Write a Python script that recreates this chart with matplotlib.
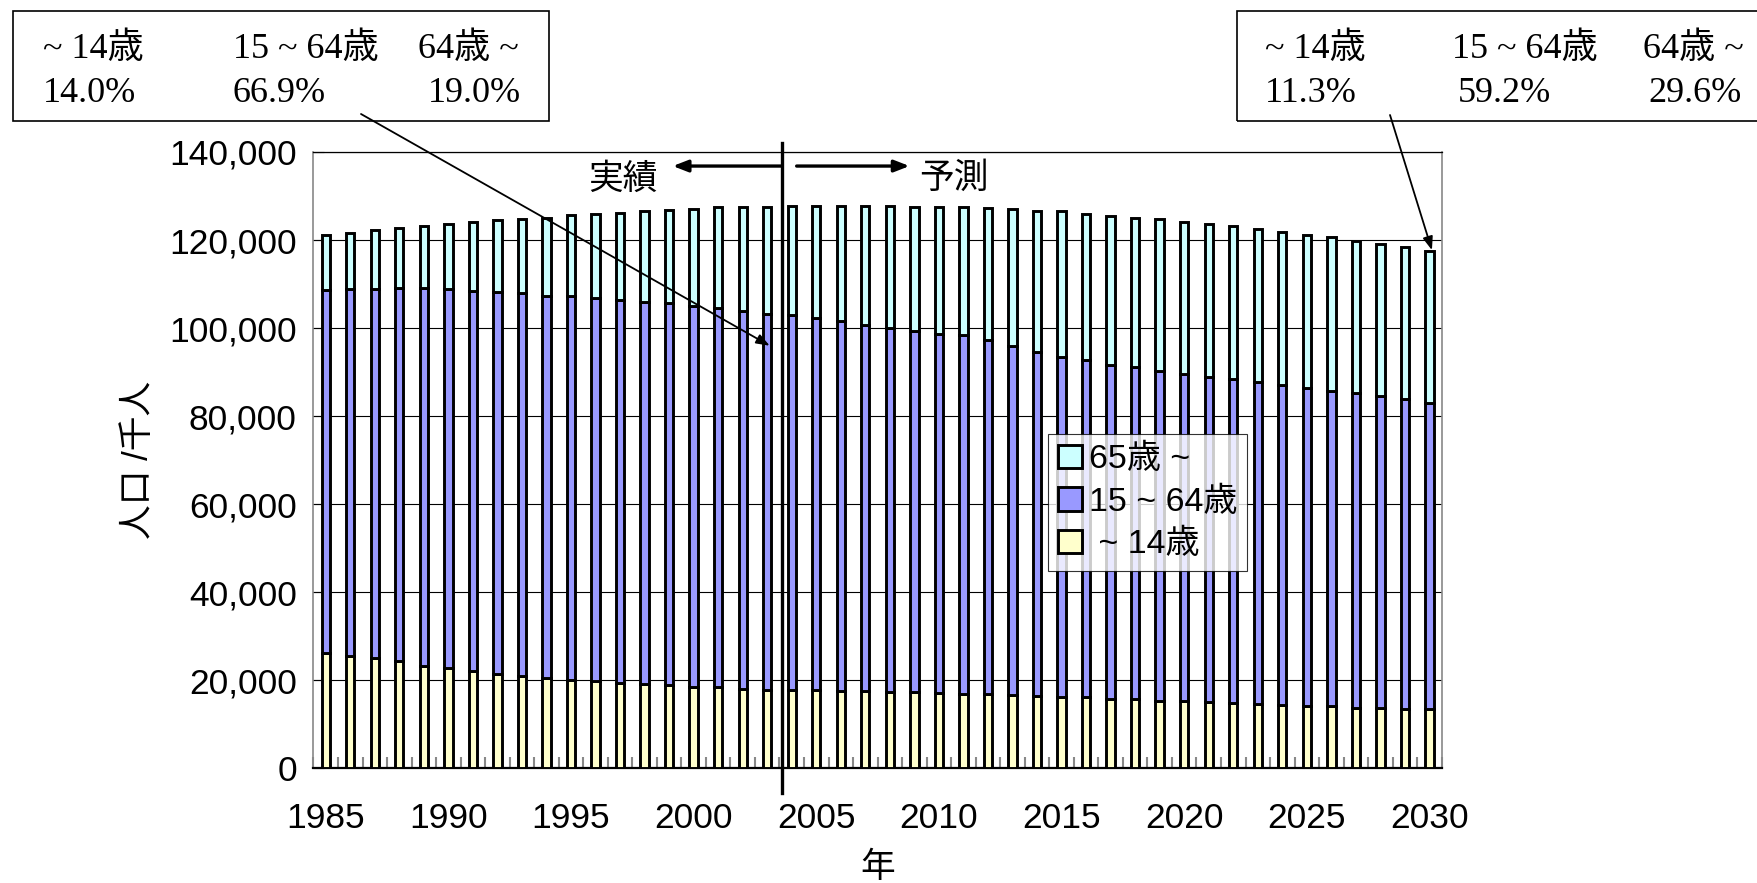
import matplotlib.pyplot as plt
import numpy as np
from matplotlib.ticker import FuncFormatter

# population by age group, thousand persons (1985-2003 actual, 2004- projection)
years = list(range(1985, 2031))
young = [26200, 25600, 25000, 24300, 23300, 22700, 22100, 21500, 20900, 20500,
         20100, 19800, 19400, 19100, 18900, 18500, 18400, 18100, 17900, 17800,
         17700, 17600, 17500, 17400, 17300, 17100, 16900, 16800, 16600, 16400,
         16200, 16100, 15800, 15700, 15400, 15300, 15000, 14800, 14600, 14400,
         14200, 14100, 13800, 13700, 13500, 13400]
working = [82400, 83300, 83900, 84700, 85700, 86100, 86400, 86700, 87000, 86800,
           87100, 87100, 87000, 86900, 86700, 86600, 86100, 85700, 85400, 85100,
           84600, 84000, 83200, 82600, 82100, 81600, 81500, 80500, 79400, 78200,
           77300, 76600, 75900, 75400, 74900, 74200, 73900, 73600, 73200, 72700,
           72300, 71700, 71400, 70900, 70300, 69600]
elderly = [12600, 12800, 13400, 13800, 14200, 14800, 15500, 16300, 16900, 17800,
           18400, 19100, 19800, 20600, 21300, 21900, 22900, 23800, 24300, 24900,
           25500, 26200, 27100, 27700, 28200, 28800, 29000, 29900, 31000, 32100,
           33000, 33300, 33800, 33900, 34400, 34600, 34700, 34700, 34700, 34800,
           34700, 34800, 34600, 34500, 34600, 34600]

labels = ["65歳 ~", "15 ~ 64歳", " ~ 14歳"]
colors = ["#CCFFFF", "#9999FF", "#FFFFCC"]

box_head = ["~ 14歳", "15 ~ 64歳", "64歳 ~"]
share_2003 = ["14.0%", "66.9%", "19.0%"]
share_2030 = ["11.3%", "59.2%", "29.6%"]

plt.rcParams['font.family'] = ['Liberation Sans', 'Noto Sans CJK JP', 'DejaVu Sans']
serif = ['Liberation Serif', 'Noto Sans CJK JP']

fig = plt.figure(figsize=(17.58, 8.83), dpi=100)
ax = fig.add_axes([0.1783, 0.1298, 0.6418, 0.6981])

x = np.arange(len(years))
young = np.array(young)
working = np.array(working)
elderly = np.array(elderly)
w = 0.34
lw = 2.1
b1 = ax.bar(x, young, w, color=colors[2], edgecolor="black", linewidth=lw, zorder=3)
b2 = ax.bar(x, working, w, bottom=young, color=colors[1], edgecolor="black", linewidth=lw, zorder=3)
b3 = ax.bar(x, elderly, w, bottom=young + working, color=colors[0], edgecolor="black", linewidth=lw, zorder=3)

ax.set_xlim(-0.5, len(years) - 0.5)
ax.set_ylim(0, 140000)
ax.set_yticks(np.arange(0, 140001, 20000))
ax.yaxis.set_major_formatter(FuncFormatter(lambda v, p: f"{int(v):,}"))
ax.yaxis.grid(True, color="black", linewidth=0.8, zorder=0)
ax.tick_params(axis="y", direction="in", length=8, width=0.8, labelsize=25.5, pad=12)

major = [i for i, yr in enumerate(years) if yr % 5 == 0]
ax.set_xticks(major)
ax.set_xticklabels([str(years[i]) for i in major])
ax.set_xticks(np.arange(-0.5, len(years), 1), minor=True)
ax.tick_params(axis="x", which="major", length=0, labelsize=25.5, pad=24)
ax.tick_params(axis="x", which="minor", direction="in", length=8, width=1.5, color="#888888")

for s in ["left", "right"]:
    ax.spines[s].set_color("#888888")
    ax.spines[s].set_linewidth(1.2)
ax.spines["top"].set_linewidth(0.9)
ax.spines["bottom"].set_linewidth(1.6)

ax.set_ylabel("人口 /千人", fontsize=25, labelpad=10)
ax.set_xlabel("年", fontsize=25, labelpad=12)

# boundary between actual and projected values
split = 18.6
ax.plot([split, split], [142000, -5500], color="black", linewidth=2.4, clip_on=False, zorder=5)
ax.annotate("", xy=(14.15, 136800), xytext=(split, 136800),
            arrowprops=dict(arrowstyle="-|>,head_length=0.9,head_width=0.35", color="black", lw=2.4, shrinkA=0, shrinkB=0))
ax.annotate("", xy=(23.8, 136800), xytext=(19.2, 136800),
            arrowprops=dict(arrowstyle="-|>,head_length=0.9,head_width=0.35", color="black", lw=2.4, shrinkA=0, shrinkB=0))
ax.text(12.1, 133700, "実績", fontsize=25, ha="center", va="center")
ax.text(25.6, 133900, "予測", fontsize=25, ha="center", va="center")

leg = ax.legend([b3, b2, b1], labels, loc="upper left",
                bbox_to_anchor=(1048 / 1758, 1 - 434 / 883), bbox_transform=fig.transFigure,
                fontsize=24.5, frameon=True, fancybox=False, edgecolor="black",
                handlelength=0.7, handleheight=0.7, handletextpad=0.2,
                labelspacing=0.33, borderpad=0.3, borderaxespad=0)
leg.get_frame().set_linewidth(0.8)
leg.set_zorder(6)


def share_box(x0, x1, cols, head, vals):
    H = 883
    rect = plt.Rectangle((x0 / 1758, 1 - 121 / H), (x1 - x0) / 1758, 110 / H,
                         transform=fig.transFigure, fill=False, edgecolor="black",
                         linewidth=1.2, clip_on=False)
    fig.add_artist(rect)
    for cx, h, v in zip(cols, head, vals):
        fig.text(cx[0] / 1758, 1 - 49 / H, h, family=serif, fontsize=26, va="center")
        fig.text(cx[1] / 1758, 1 - 94 / H, v, family=serif, fontsize=26, va="center")


share_box(13, 549, [(43, 43), (233, 233), (418, 428)], box_head, share_2003)
share_box(1237, 1800, [(1265, 1265), (1452, 1458), (1643, 1648)], box_head, share_2030)

ax.annotate("", xy=(18.1, 96000), xytext=(361 / 1758, 1 - 114 / 883), textcoords="figure fraction",
            arrowprops=dict(arrowstyle="-|>,head_length=0.8,head_width=0.3", color="black", lw=1.3, shrinkA=0, shrinkB=0),
            annotation_clip=False)
ax.annotate("", xy=(45.1, 117700), xytext=(1390 / 1758, 1 - 115 / 883), textcoords="figure fraction",
            arrowprops=dict(arrowstyle="-|>,head_length=0.8,head_width=0.3", color="black", lw=1.3, shrinkA=0, shrinkB=0),
            annotation_clip=False)

fig.savefig("out.png", dpi=100)
